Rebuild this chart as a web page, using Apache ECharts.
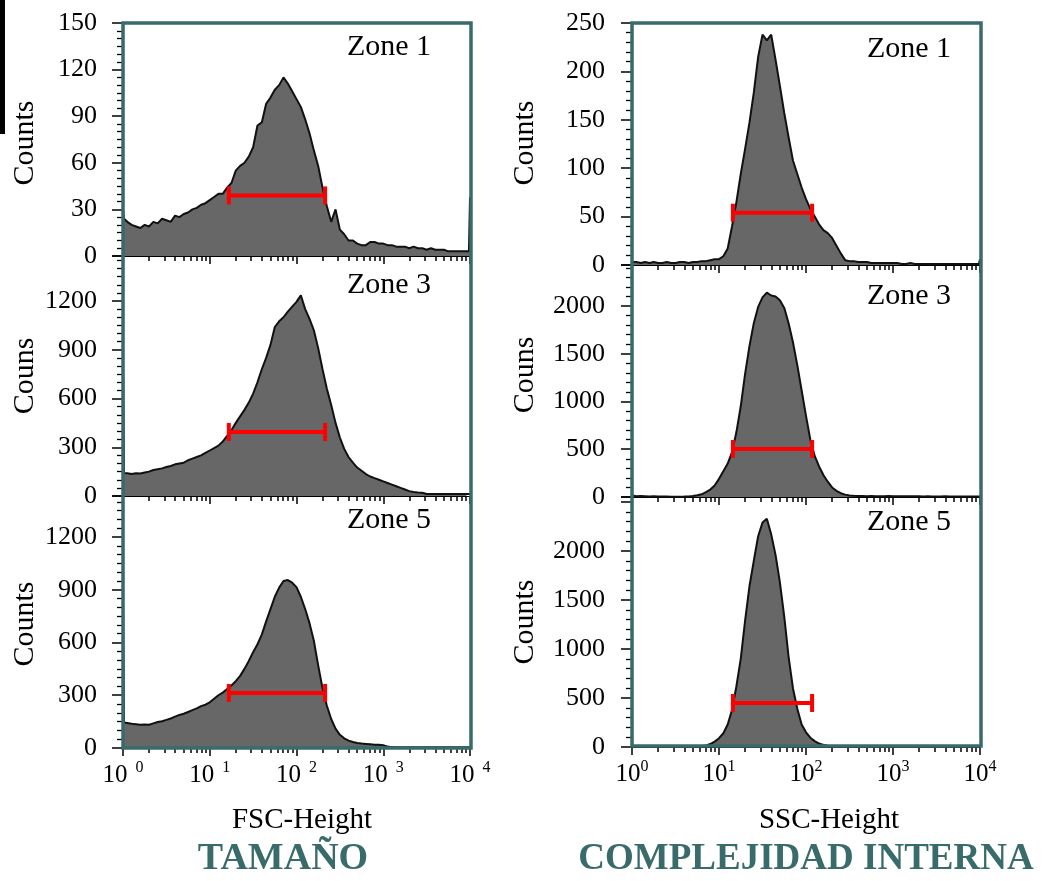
<!DOCTYPE html>
<html><head><meta charset="utf-8">
<script src="https://cdn.jsdelivr.net/npm/echarts@6/dist/echarts.min.js"></script>
<style>html,body{margin:0;padding:0;background:#fff}#c{width:1042px;height:881px}</style>
</head><body><div id="c"></div><script>
// channel positions in decades (log10 of FSC/SSC height)
const logBins = (function () { const b = [0, 0.012]; for (let i = 1; i <= 79; i++) b.push(+(i * 0.05).toFixed(2)); b.push(3.988, 4); return b; })();

const fscZone1 = [30, 24,
  22, 20, 19, 18, 20, 19, 22, 21, 24, 23,
  22, 26, 25, 27, 28, 30, 31, 33, 34, 36,
  38, 40, 40, 44, 47, 55, 58, 60, 64, 70,
  84, 86, 98, 102, 107, 110, 115, 111, 106, 101,
  96, 88, 79, 68, 58, 44, 32, 22, 30, 17,
  14, 10, 10, 8, 7, 7, 9, 9, 8, 8,
  7, 7, 6, 6, 6, 5, 6, 5, 5, 4,
  5, 4, 4, 4, 3, 3, 3, 3, 3,
  3, 38];
const fscZone3 = [820, 142,
  140, 135, 140, 138, 145, 150, 160, 165, 170, 178,
  185, 195, 200, 205, 220, 230, 240, 250, 265, 280,
  295, 310, 335, 370, 405, 450, 490, 530, 575, 630,
  700, 780, 850, 930, 1040, 1075, 1100, 1135, 1165, 1195,
  1235, 1150, 1090, 1020, 910, 780, 660, 560, 450, 360,
  290, 240, 205, 175, 155, 135, 120, 110, 100, 90,
  80, 70, 60, 50, 40, 30, 25, 22, 20, 12,
  12, 12, 12, 12, 12, 12, 12, 12, 12,
  12, 12];
const fscZone5 = [820, 145,
  142, 138, 135, 132, 134, 132, 140, 148, 152, 160,
  168, 178, 188, 195, 205, 215, 225, 238, 246, 260,
  280, 300, 315, 335, 355, 380, 410, 450, 495, 545,
  590, 645, 720, 790, 860, 912, 950, 955, 940, 915,
  860, 790, 710, 610, 470, 340, 240, 165, 110, 75,
  55, 42, 34, 28, 25, 23, 21, 19, 18, 16,
  8, 5, 4, 4, 4, 4, 4, 4, 4, 4,
  4, 4, 4, 4, 4, 4, 4, 4, 4,
  4, 4];
const sscZone1 = [3, 3,
  3, 2, 3, 2, 3, 2, 2, 3, 2, 2,
  3, 3, 2, 3, 3, 4, 4, 5, 6, 6,
  9, 17, 40, 65, 94, 120, 147, 178, 215, 238,
  232, 238, 212, 185, 157, 132, 108, 94, 80, 68,
  58, 50, 42, 36, 33, 28, 20, 12, 5, 4,
  4, 3, 3, 3, 2, 2, 2, 2, 2, 2,
  2, 1, 1, 2, 1, 1, 1, 1, 1, 1,
  1, 1, 1, 1, 1, 1, 1, 1, 1,
  1, 6];
const sscZone3 = [15, 10,
  8, 10, 8, 6, 8, 6, 5, 4, 3, 3,
  3, 4, 6, 10, 18, 28, 50, 78, 120, 190,
  270, 350, 470, 680, 950, 1290, 1580, 1820, 1990, 2090,
  2140, 2110, 2100, 2060, 1980, 1820, 1620, 1380, 1115, 850,
  600, 430, 320, 230, 160, 100, 65, 40, 25, 15,
  12, 10, 10, 9, 10, 8, 9, 8, 10, 8,
  8, 7, 8, 7, 8, 7, 6, 7, 6, 6,
  6, 7, 6, 6, 5, 6, 5, 5, 5,
  5, 5];
const sscZone5 = [2, 2,
  2, 2, 2, 2, 2, 2, 2, 2, 2, 2,
  2, 2, 3, 4, 6, 10, 15, 30, 55, 90,
  140, 230, 380, 620, 900, 1290, 1640, 1900, 2150, 2290,
  2330, 2170, 1960, 1680, 1330, 920, 600, 390, 230, 150,
  95, 60, 35, 22, 14, 8, 6, 5, 4, 3,
  3, 2, 2, 2, 2, 2, 2, 2, 2, 2,
  2, 2, 2, 2, 2, 2, 2, 2, 2, 2,
  2, 2, 2, 2, 2, 2, 2, 2, 2,
  2, 2];

const fscBarRange = [1.22, 2.33];
const fscBarLevel = [39, 394, 313];
const sscBarRange = [1.16, 2.07];
const sscBarLevel = [54, 503, 449];

const fscYMax = [150, 1477, 1433];
const fscYStep = [30, 300, 300];
const fscYLabelTop = [150, 1200, 1200];
const sscYMax = [250, 2429, 2551];
const sscYStep = [50, 500, 500];
const sscYLabelTop = [250, 2000, 2000];

const zoneNames = ['Zone 1', 'Zone 3', 'Zone 5'];
const countLabels = ['Counts', 'Couns', 'Counts'];
const decadeTicks = [0, 1, 2, 3, 4];
const fscTitle = 'FSC-Height', sscTitle = 'SSC-Height';
const leftHeading = 'TAMAÑO', rightHeading = 'COMPLEJIDAD INTERNA';

const minorTicks = [];
for (let d = 0; d < 4; d++) for (let k = 2; k <= 9; k++) minorTicks.push(d + Math.log10(k));

const FONT = '"Liberation Serif", "Times New Roman", serif';
const TEAL = '#386b69';

const layout = {
  left: { x: 123, w: 347, rows: [[23, 233], [256, 240], [496, 252]] },
  right: { x: 632, w: 348, rows: [[23, 242], [265, 232], [497, 250]] }
};

const panels = [
  { col: 'left', row: 0, data: fscZone1, ymax: fscYMax[0], step: fscYStep[0], top: fscYLabelTop[0], bar: fscBarRange, lvl: fscBarLevel[0] },
  { col: 'left', row: 1, data: fscZone3, ymax: fscYMax[1], step: fscYStep[1], top: fscYLabelTop[1], bar: fscBarRange, lvl: fscBarLevel[1] },
  { col: 'left', row: 2, data: fscZone5, ymax: fscYMax[2], step: fscYStep[2], top: fscYLabelTop[2], bar: fscBarRange, lvl: fscBarLevel[2] },
  { col: 'right', row: 0, data: sscZone1, ymax: sscYMax[0], step: sscYStep[0], top: sscYLabelTop[0], bar: sscBarRange, lvl: sscBarLevel[0] },
  { col: 'right', row: 1, data: sscZone3, ymax: sscYMax[1], step: sscYStep[1], top: sscYLabelTop[1], bar: sscBarRange, lvl: sscBarLevel[1] },
  { col: 'right', row: 2, data: sscZone5, ymax: sscYMax[2], step: sscYStep[2], top: sscYLabelTop[2], bar: sscBarRange, lvl: sscBarLevel[2] }
];

const grid = [], xAxis = [], yAxis = [], series = [];
panels.forEach(function (p, i) {
  const L = layout[p.col];
  const r = L.rows[p.row];
  grid.push({ left: L.x, top: r[0], width: L.w, height: r[1], outerBoundsMode: 'none', containLabel: false });
  const isBottom = p.row === 2;
  const isLeft = p.col === 'left';
  xAxis.push({
    type: 'value', gridIndex: i, min: 0, max: 4, position: 'bottom',
    axisLine: { show: true, onZero: false, lineStyle: { color: '#000', width: 1.2 } },
    axisTick: { show: true, customValues: decadeTicks, length: 8, lineStyle: { color: '#000', width: 1.5 } },
    splitLine: { show: false },
    axisLabel: {
      show: isBottom, customValues: decadeTicks, margin: 12, color: '#000',
      formatter: function (v) { return '{n|10}{s|' + v + '}'; },
      rich: {
        n: { fontFamily: FONT, fontSize: 25, color: '#000', lineHeight: 28, verticalAlign: 'bottom' },
        s: { fontFamily: FONT, fontSize: 16, color: '#000', lineHeight: 28, verticalAlign: 'top', padding: isLeft ? [0, 0, 0, 8] : [0, 0, 0, 0] }
      }
    }
  });
  xAxis.push({
    type: 'value', gridIndex: i, min: 0, max: 4, position: 'bottom',
    axisLine: { show: false },
    axisTick: { show: true, customValues: minorTicks, length: 5, lineStyle: { color: '#000', width: 1.5 } },
    splitLine: { show: false },
    axisLabel: { show: false }
  });
  yAxis.push({
    type: 'value', gridIndex: i, min: 0, max: p.ymax, interval: p.step,
    axisLine: { show: true, lineStyle: { color: '#000', width: 1.2 } },
    axisTick: { show: true, length: 11, lineStyle: { color: '#000', width: 1.5 } },
    minorTick: { show: true, splitNumber: isLeft ? 6 : 5, length: 6, lineStyle: { color: '#000', width: 1.3 } },
    splitLine: { show: false },
    axisLabel: {
      showMaxLabel: p.ymax === p.top, margin: isLeft ? 26 : 27, fontFamily: FONT, fontSize: 26, color: '#000',
      formatter: function (v) { return v > p.top ? '' : String(v); }
    }
  });
  series.push({
    type: 'line', xAxisIndex: 2 * i, yAxisIndex: i,
    data: logBins.map(function (x, k) { return [x, p.data[k]]; }),
    symbol: 'none', smooth: false,
    lineStyle: { color: '#111', width: 2 },
    areaStyle: { color: '#676767', opacity: 1 },
    z: 2, silent: true
  });
  series.push({
    type: 'line', xAxisIndex: 2 * i, yAxisIndex: i,
    data: [[p.bar[0], p.lvl], [p.bar[1], p.lvl]],
    symbol: 'rect', symbolSize: [4, 18], showSymbol: true,
    lineStyle: { color: '#ff0000', width: 4 },
    itemStyle: { color: '#ff0000' },
    z: 5, silent: true
  });
});

const graphic = [
  { type: 'rect', shape: { x: 0, y: 0, width: 5, height: 134 }, style: { fill: '#000' }, z: 10 },
  { type: 'rect', shape: { x: layout.left.x, y: 23, width: 348, height: 725 }, style: { fill: null, stroke: TEAL, lineWidth: 3.5 }, z: 20 },
  { type: 'rect', shape: { x: layout.right.x, y: 23, width: 349, height: 723 }, style: { fill: null, stroke: TEAL, lineWidth: 3.5 }, z: 20 }
];
const zoneY = { left: [47, 285, 520], right: [49, 296, 522] };
const countY = { left: [143, 376, 624], right: [143, 375, 622] };
[0, 1, 2].forEach(function (r) {
  graphic.push({ type: 'text', x: 389, y: zoneY.left[r], z: 30, style: { text: zoneNames[r], font: '30px ' + FONT, fill: '#000', align: 'center', verticalAlign: 'middle' } });
  graphic.push({ type: 'text', x: 909, y: zoneY.right[r], z: 30, style: { text: zoneNames[r], font: '30px ' + FONT, fill: '#000', align: 'center', verticalAlign: 'middle' } });
  graphic.push({ type: 'text', x: 25, y: countY.left[r], rotation: Math.PI / 2, z: 30, style: { text: countLabels[r], font: '30px ' + FONT, fill: '#000', align: 'center', verticalAlign: 'middle' } });
  graphic.push({ type: 'text', x: 525, y: countY.right[r], rotation: Math.PI / 2, z: 30, style: { text: countLabels[r], font: '30px ' + FONT, fill: '#000', align: 'center', verticalAlign: 'middle' } });
});
graphic.push({ type: 'text', x: 302, y: 820, z: 30, style: { text: fscTitle, font: '29px ' + FONT, fill: '#000', align: 'center', verticalAlign: 'middle' } });
graphic.push({ type: 'text', x: 829, y: 820, z: 30, style: { text: sscTitle, font: '29px ' + FONT, fill: '#000', align: 'center', verticalAlign: 'middle' } });
graphic.push({ type: 'text', x: 283, y: 859, z: 30, style: { text: leftHeading, font: 'bold 38px ' + FONT, fill: TEAL, align: 'center', verticalAlign: 'middle' } });
graphic.push({ type: 'text', x: 806, y: 859, z: 30, style: { text: rightHeading, font: 'bold 37px ' + FONT, fill: TEAL, align: 'center', verticalAlign: 'middle' } });

const chart = echarts.init(document.getElementById('c'), null, { renderer: 'canvas' });
chart.setOption({ animation: false, backgroundColor: '#fff', grid: grid, xAxis: xAxis, yAxis: yAxis, series: series, graphic: graphic });
</script></body></html>
